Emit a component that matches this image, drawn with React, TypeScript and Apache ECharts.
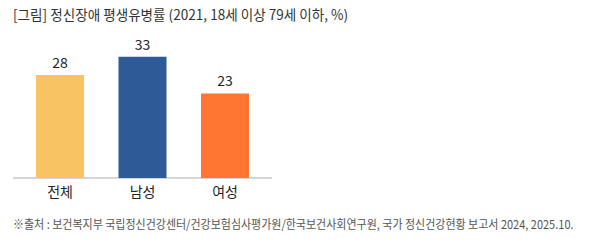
import React, { useEffect, useRef } from "react";
import * as echarts from "echarts";

const categories = ["전체", "남성", "여성"];
const values = [28, 33, 23];
const barColors = ["#F8C463", "#2E5B98", "#FF7531"];
const titleText = "[그림] 정신장애 평생유병률 (2021, 18세 이상 79세 이하, %)";
const sourceText =
  "※출처 : 보건복지부 국립정신건강센터/건강보험심사평가원/한국보건사회연구원, 국가 정신건강현황 보고서 2024, 2025.10.";

const FONT = "'Noto Sans CJK KR', 'Noto Sans', sans-serif";

export default function App() {
  const ref = useRef<HTMLDivElement>(null);
  useEffect(() => {
    if (!ref.current) return;
    const chart = echarts.init(ref.current, null, { renderer: "svg" });
    chart.setOption({
      animation: false,
      backgroundColor: "#ffffff",
      grid: { left: 18.75, width: 247.5, top: 31, height: 147 },
      xAxis: {
        type: "category",
        data: categories,
        axisLine: { show: false },
        axisTick: { show: false },
        axisLabel: { color: "#222", fontSize: 14, fontFamily: FONT, margin: 6 },
      },
      yAxis: {
        type: "value",
        min: 0,
        max: 40,
        show: false,
      },
      series: [
        {
          type: "bar",
          data: values.map((v, i) => ({ value: v, itemStyle: { color: barColors[i] } })),
          barWidth: 48,
          label: {
            show: true,
            position: "top",
            distance: 6,
            color: "#222",
            fontSize: 14,
            fontFamily: FONT,
          },
        },
      ],
      graphic: [
        {
          type: "line",
          shape: { x1: 13, y1: 178, x2: 272, y2: 178 },
          style: { stroke: "#c8c8c8", lineWidth: 1.5 },
        },
        {
          type: "text",
          x: 13,
          y: 7,
          scaleX: 0.97,
          style: { text: titleText, fill: "#333", fontSize: 14, fontFamily: FONT },
        },
        {
          type: "text",
          x: 13,
          y: 218,
          scaleX: 0.917,
          style: { text: sourceText, fill: "#555", fontSize: 12, fontFamily: FONT },
        },
      ],
    });
    return () => chart.dispose();
  }, []);
  return <div ref={ref} style={{ width: 595, height: 250, margin: -8 }} />;
}
